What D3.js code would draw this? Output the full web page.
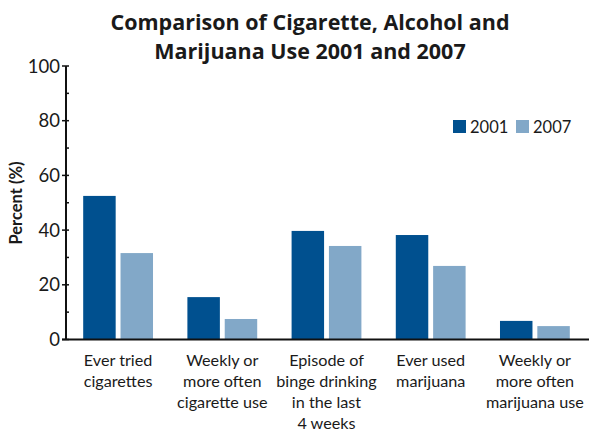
<!DOCTYPE html>
<html><head><meta charset="utf-8">
<script src="https://cdn.jsdelivr.net/npm/d3@7"></script>
<style>body{margin:0;background:#fff}svg{display:block}text{font-family:"Lato","Open Sans",sans-serif;fill:#1a1a1a}</style>
</head><body>
<svg id="c" width="593" height="434"></svg>
<script>
const titleLines = ["Comparison of Cigarette, Alcohol and", "Marijuana Use 2001 and 2007"];
const categories = [
  ["Ever tried", "cigarettes"],
  ["Weekly or", "more often", "cigarette use"],
  ["Episode of", "binge drinking", "in the last", "4 weeks"],
  ["Ever used", "marijuana"],
  ["Weekly or", "more often", "marijuana use"]
];
const seriesNames = ["2001", "2007"];
const values2001 = [52.5, 15.5, 39.7, 38.2, 6.8];
const values2007 = [31.6, 7.5, 34.2, 26.9, 4.9];
const yTicks = [0, 20, 40, 60, 80, 100];
const colors = ["#00508f", "#82a8c8"];

const svg = d3.select("#c");
const x = d3.scaleBand().domain(d3.range(categories.length)).range([66, 587]).paddingInner(0.33).paddingOuter(0.165);
const xs = d3.scaleBand().domain(seriesNames).range([0, x.bandwidth()]).paddingInner(0.13);
const y = d3.scaleLinear().domain([0, 100]).range([339.5, 66]);

// title
svg.append("g").selectAll("text").data(titleLines).join("text")
  .attr("x", 310).attr("y", (d, i) => 30 + i * 29)
  .attr("text-anchor", "middle").attr("font-size", 21.5).attr("font-weight", 700)
  .style("font-family", "'Open Sans', sans-serif")
  .text(d => d);

// bars
const series = [values2001, values2007];
series.forEach((vals, si) => {
  svg.append("g").selectAll("rect").data(vals).join("rect")
    .attr("x", (d, i) => x(i) + xs(seriesNames[si]))
    .attr("width", xs.bandwidth())
    .attr("y", d => y(d))
    .attr("height", d => y(0) - y(d))
    .attr("fill", colors[si]);
});

// y axis
const ax = svg.append("g").attr("transform", "translate(66,0)");
ax.append("line").attr("x1", 0).attr("x2", 0).attr("y1", y(100)).attr("y2", y(0)).attr("stroke", "#111").attr("stroke-width", 2);
ax.selectAll(".minor").data(d3.range(10, 100, 20)).join("line")
  .attr("x1", 0).attr("x2", 3).attr("y1", d => y(d)).attr("y2", d => y(d)).attr("stroke", "#111").attr("stroke-width", 1.5);
ax.selectAll(".major").data(yTicks).join("line")
  .attr("x1", -4).attr("x2", 3).attr("y1", d => y(d)).attr("y2", d => y(d)).attr("stroke", "#111").attr("stroke-width", 1.5);
ax.selectAll("text").data(yTicks).join("text")
  .attr("x", -6).attr("y", d => y(d) + 6.5).attr("text-anchor", "end").attr("font-size", 18.5).text(d => d);

// baseline
svg.append("line").attr("x1", 62).attr("x2", 589).attr("y1", y(0)).attr("y2", y(0)).attr("stroke", "#111").attr("stroke-width", 2);

// y label
svg.append("text").attr("transform", "translate(22,203) rotate(-90)")
  .attr("text-anchor", "middle").attr("font-size", 16.5).attr("font-weight", 700).text("Percent (%)");

// category labels
categories.forEach((lines, i) => {
  svg.append("g").selectAll("text").data(lines).join("text")
    .attr("x", x(i) + x.bandwidth() / 2).attr("y", (d, j) => 366 + j * 21)
    .attr("text-anchor", "middle").attr("font-size", 16.2).text(d => d);
});

// legend
const legX = [453, 516];
seriesNames.forEach((s, i) => {
  svg.append("rect").attr("x", legX[i]).attr("y", 120).attr("width", 13).attr("height", 13).attr("fill", colors[i]);
  svg.append("text").attr("x", legX[i] + 17).attr("y", 133).attr("font-size", 16.5).text(s);
});
</script>
</body></html>
